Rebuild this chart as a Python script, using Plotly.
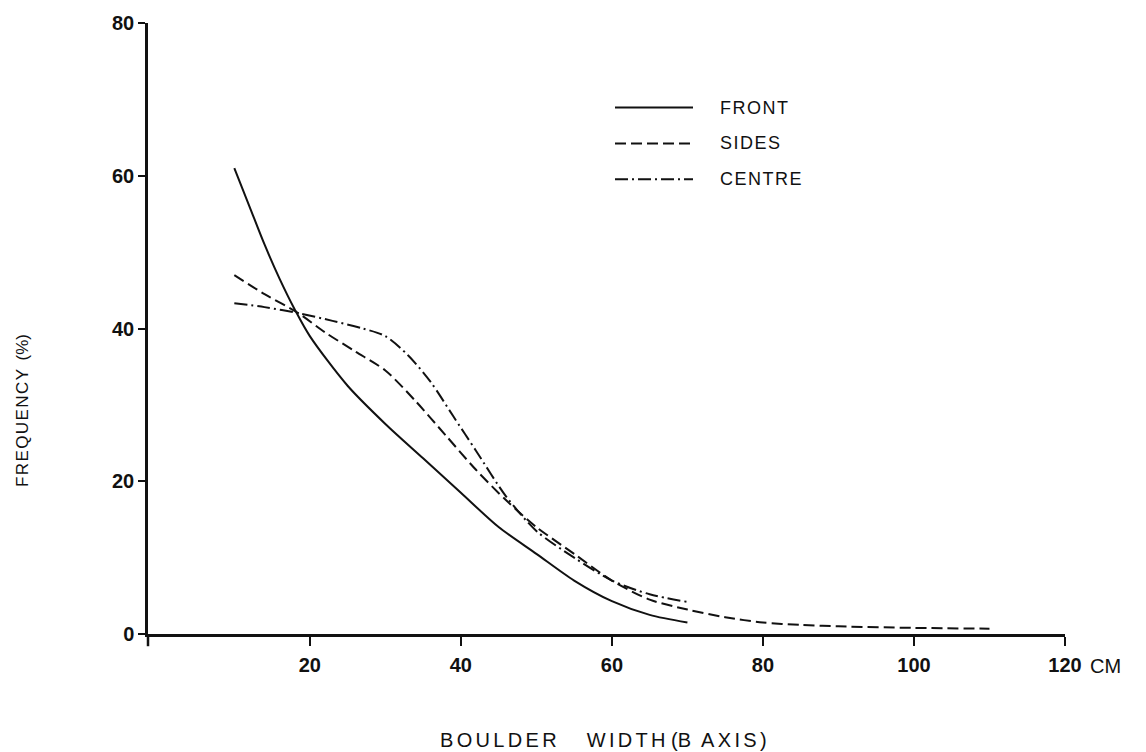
import plotly.graph_objects as go

# Boulder width (cm) vs frequency (%) for three moraine zones
front_x = [10, 12, 14, 16, 18, 20, 25, 30, 35, 40, 45, 50, 55, 60, 65, 70]
front_y = [61, 56, 51, 46.5, 42.5, 39, 32.5, 27.5, 23, 18.5, 14, 10.5, 7, 4.3, 2.5, 1.5]

sides_x = [10, 14, 18.5, 22, 26, 30, 34, 38, 42, 46, 50, 55, 60, 65, 70, 75, 80, 85, 90, 100, 110]
sides_y = [47, 44.5, 42, 39.5, 37, 34.5, 30.5, 26, 21.5, 17.5, 14, 10.5, 7, 4.5, 3.2, 2.2, 1.5, 1.2, 1.0, 0.8, 0.7]

centre_x = [10, 14, 18.5, 23, 27, 30, 33, 36, 39, 42, 46, 50, 55, 60, 65, 70]
centre_y = [43.3, 42.8, 42, 41, 40, 39, 36.5, 33, 28.5, 24, 18, 13.5, 10, 7, 5.2, 4.2]

x_ticks = [20, 40, 60, 80, 100, 120]
y_ticks = [0, 20, 40, 60, 80]

INK = "#111111"
FONT = "Liberation Sans, Arial, sans-serif"
DASH_SIDES = "11px,5px"
DASH_CENTRE = "13px,4px,2px,4px"


def spaced(word, gap="\u200a"):
    """Letter-spaced caption text."""
    return gap.join(word)


series = [
    ("FRONT", front_x, front_y, "solid"),
    ("SIDES", sides_x, sides_y, DASH_SIDES),
    ("CENTRE", centre_x, centre_y, DASH_CENTRE),
]

fig = go.Figure()
for name, xs, ys, dash in series:
    fig.add_trace(go.Scatter(
        x=xs, y=ys, mode="lines", name=name,
        line=dict(color=INK, width=2, dash=dash, shape="spline", smoothing=0.8),
        showlegend=False,
    ))

fig.update_layout(
    width=1146, height=752,
    margin=dict(l=148, r=81, t=20, b=118),
    paper_bgcolor="white", plot_bgcolor="white",
    font=dict(family=FONT, color=INK),
    showlegend=False,
)

fig.update_xaxes(
    range=[-1.43, 120], showgrid=False, zeroline=False,
    showline=True, linecolor=INK, linewidth=2.5,
    ticks="outside", ticklen=9, tickwidth=2, tickcolor=INK,
    tickvals=x_ticks, ticktext=[f"<b>{v}</b>" for v in x_ticks],
    tickfont=dict(size=20, family=FONT, color=INK),
    ticklabelstandoff=2,
)
fig.update_yaxes(
    range=[0, 80], showgrid=False, zeroline=False,
    showline=True, linecolor=INK, linewidth=2.5,
    ticks="outside", ticklen=7, tickwidth=2, tickcolor=INK,
    tickvals=y_ticks, ticktext=[f"<b>{v}</b>" for v in y_ticks],
    tickfont=dict(size=20, family=FONT, color=INK),
)

# y axis runs a little below the x axis
fig.add_shape(type="line", xref="paper", yref="paper", x0=0, x1=0, y0=0, y1=-0.02,
              line=dict(color=INK, width=2.5))

# hand-placed key
key_rows = [("FRONT", "solid", 105), ("SIDES", DASH_SIDES, 141), ("CENTRE", DASH_CENTRE, 177)]
plot_top, plot_h, plot_w = 20, 752 - 20 - 118, 917
for label, dash, py in key_rows:
    yp = 1 - (py - plot_top) / plot_h
    fig.add_shape(type="line", xref="paper", yref="paper",
                  x0=(615 - 148) / plot_w, x1=(693 - 148) / plot_w, y0=yp, y1=yp,
                  line=dict(color=INK, width=2, dash=dash))
    fig.add_annotation(xref="paper", yref="paper", x=(718 - 148) / plot_w, y=yp,
                       text=spaced(label), showarrow=False, xanchor="left", yanchor="middle",
                       font=dict(size=18, family=FONT, color=INK))

# unit after the last x tick
fig.add_annotation(xref="paper", yref="paper", x=(1088 - 148) / plot_w, y=-(666 - 634) / plot_h,
                   text="CM", showarrow=False, xanchor="left", yanchor="middle",
                   font=dict(size=20, family=FONT, color=INK))

# axis titles
x_title = (spaced("BOULDER", "\u2006") + "\u2003\u2002" + spaced("WIDTH", "\u2006")
           + " (" + "B\u2002" + spaced("AXIS", "\u2006") + "\u2006)")
fig.add_annotation(xref="paper", yref="paper", x=(603 - 148) / plot_w, y=-(741 - 634) / plot_h,
                   text=x_title, showarrow=False, xanchor="center", yanchor="middle",
                   font=dict(size=20, family=FONT, color=INK))
fig.add_annotation(xref="paper", yref="paper", x=-(148 - 22) / plot_w, y=1 - (410 - plot_top) / plot_h,
                   text=spaced("FREQUENCY", "\u200a") + "\u2002(%)", textangle=-90,
                   showarrow=False, xanchor="center", yanchor="middle",
                   font=dict(size=17, family=FONT, color=INK))

fig.write_html("out.html")
